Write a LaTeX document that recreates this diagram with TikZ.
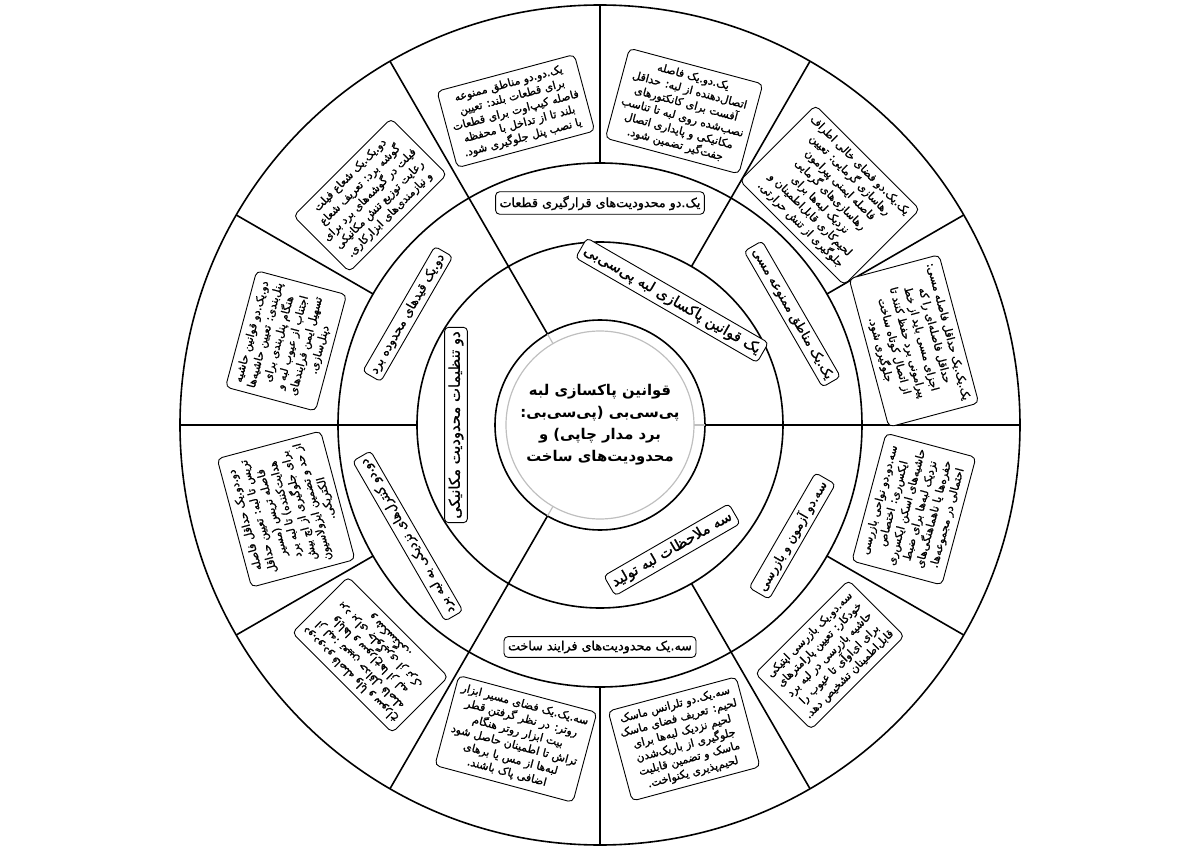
\documentclass[tikz,border=0pt]{standalone}
\usepackage{fontspec}
\newfontfamily\fafont[Script=Arabic, FakeBold=1.2]{DejaVu Sans}
\newfontfamily\fahub[Script=Arabic]{DejaVu Sans Bold}
\TeXXeTstate=1
\newcommand{\fa}[1]{\beginR #1\endR}
\tikzset{
    ring/.style = {line width=1.6pt, black},
    faint/.style = {line width=1.2pt, black!25},
    hub/.style = {align=center, font=\fahub\fontsize{14.8}{22}\selectfont},
    trunk/.style = {draw, line width=0.9pt, rounded corners=4pt, fill=white, inner sep=4pt, font=\fafont\fontsize{14.8}{17}\selectfont},
    branch/.style = {draw, line width=0.9pt, rounded corners=4pt, fill=white, inner sep=4pt, font=\fafont\fontsize{12.7}{15}\selectfont},
    leaf/.style = {draw, line width=0.9pt, rounded corners=5pt, fill=white, align=center, inner sep=6pt, font=\fafont\fontsize{11}{14}\selectfont}
}

\begin{document}
\begin{tikzpicture}[x=1pt, y=1pt]
    \useasboundingbox (-600,-424) rectangle (600,425);

    % rings and spokes
    \draw[faint] (0,0) circle (94);
    \foreach \r in {105,183,262,420}
        \draw[ring] (0,0) circle (\r);
    \foreach \a in {0,120,240} {
        \draw[faint] (\a:94) -- (\a:105);
        \draw[ring] (\a:105) -- (\a:183);
    }
    \foreach \a in {0,60,...,300}
        \draw[ring] (\a:183) -- (\a:262);
    \foreach \a in {0,30,...,330}
        \draw[ring] (\a:262) -- (\a:420);

    % centre
    \node[hub] (hub) at (0,0) {\fa{قوانین پاکسازی لبه}\\\fa{پی‌سی‌بی (پی‌سی‌بی:}\\\fa{برد مدار چاپی) و}\\\fa{محدودیت‌های ساخت}};

    % first ring
    \node[trunk, rotate=-30] (edgerules) at (60:144) {\fa{یک قوانین پاکسازی لبه پی‌سی‌بی}};
    \node[trunk, rotate=90] (mechlimits) at (180:144) {\fa{دو تنظیمات محدودیت مکانیکی}};
    \node[trunk, rotate=30] (fabnotes) at (300:144) {\fa{سه ملاحظات لبه تولید}};

    % second ring
    \node[branch, rotate=-60] (keepout) at (30:222) {\fa{یک.یک مناطق ممنوعه مسی}};
    \node[branch] (placement) at (90:222) {\fa{یک.دو محدودیت‌های قرارگیری قطعات}};
    \node[branch, rotate=60] (outline) at (150:222) {\fa{دو.یک قیدهای محدوده برد}};
    \node[branch, rotate=120] (nearedge) at (210:222) {\fa{دو.دو کنترل‌های نزدیکی به لبه برد}};
    \node[branch] (process) at (270:222) {\fa{سه.یک محدودیت‌های فرایند ساخت}};
    \node[branch, rotate=60] (testing) at (330:222) {\fa{سه.دو آزمون و بازرسی}};

    % outer ring
    \node[leaf, rotate=-75] (coppergap) at (15:325) {\fa{یک.یک.یک حداقل فاصله مسی:}\\\fa{حداقل فاصله‌ای را که}\\\fa{اجزای مسی باید از خط}\\\fa{پیرامونی برد حفظ کنند تا}\\\fa{از اتصال کوتاه ساخت}\\\fa{جلوگیری شود.}};
    \node[leaf, rotate=-45] (thermal) at (45:325) {\fa{یک.یک.دو فضای خالی اطراف}\\\fa{رهاسازی گرمایی: تعیین}\\\fa{فاصله ایمنی پیرامون}\\\fa{رهاسازی‌های گرمایی}\\\fa{نزدیک لبه‌ها برای}\\\fa{لحیم‌کاری قابل‌اطمینان و}\\\fa{جلوگیری از تنش حرارتی.}};
    \node[leaf, rotate=-15] (connector) at (75:325) {\fa{یک.دو.یک فاصله}\\\fa{اتصال‌دهنده از لبه: حداقل}\\\fa{آفست برای کانکتورهای}\\\fa{نصب‌شده روی لبه تا تناسب}\\\fa{مکانیکی و پایداری اتصال}\\\fa{جفت‌گیر تضمین شود.}};
    \node[leaf, rotate=15] (tallparts) at (105:325) {\fa{یک.دو.دو مناطق ممنوعه}\\\fa{برای قطعات بلند: تعیین}\\\fa{فاصله کیپ‌اوت برای قطعات}\\\fa{بلند تا از تداخل با محفظه}\\\fa{یا نصب پنل جلوگیری شود.}};
    \node[leaf, rotate=45] (fillet) at (135:325) {\fa{دو.یک.یک شعاع فیلت}\\\fa{گوشه برد: تعریف شعاع}\\\fa{فیلت در گوشه‌های برد برای}\\\fa{رعایت توزیع تنش مکانیکی}\\\fa{و نیازمندی‌های ابزارکاری.}};
    \node[leaf, rotate=75] (panel) at (165:325) {\fa{دو.یک.دو قوانین حاشیه}\\\fa{پنل‌بندی: تعیین حاشیه‌ها}\\\fa{هنگام پنل‌بندی برای}\\\fa{اجتناب از عیوب لبه و}\\\fa{تسهیل ایمن فرایندهای}\\\fa{دپنل‌سازی.}};
    \node[leaf, rotate=105] (tracegap) at (195:325) {\fa{دو.دو.یک حداقل فاصله}\\\fa{تریس تا لبه: تعیین حداقل}\\\fa{فاصله تریس (مسیر}\\\fa{هدایت‌کننده) تا لبه برد}\\\fa{برای جلوگیری از اچ بیش}\\\fa{از حد و تضمین ایزولاسیون}\\\fa{الکتریکی.}};
    \node[leaf, rotate=135] (viagap) at (225:325) {\fa{دو.دو.دو فاصله وایا و سوراخ}\\\fa{از لبه: تعیین حداقل فاصله}\\\fa{وایاها و سوراخ‌ها از لبه}\\\fa{برد برای جلوگیری از ترک}\\\fa{و شکستگی.}};
    \node[leaf, rotate=-15] (routerbit) at (255:325) {\fa{سه.یک.یک فضای مسیر ابزار}\\\fa{روتر: در نظر گرفتن قطر}\\\fa{بیت ابزار روتر هنگام}\\\fa{تراش تا اطمینان حاصل شود}\\\fa{لبه‌ها از مس یا برهای}\\\fa{اضافی پاک باشند.}};
    \node[leaf, rotate=15] (soldermask) at (285:325) {\fa{سه.یک.دو تلرانس ماسک}\\\fa{لحیم: تعریف فضای ماسک}\\\fa{لحیم نزدیک لبه‌ها برای}\\\fa{جلوگیری از باریک‌شدن}\\\fa{ماسک و تضمین قابلیت}\\\fa{لحیم‌پذیری یکنواخت.}};
    \node[leaf, rotate=45] (aoi) at (315:325) {\fa{سه.دو.یک بازرسی اپتیکی}\\\fa{خودکار: تعیین پارامترهای}\\\fa{حاشیه بازرسی در لبه برد}\\\fa{برای ای‌اوآی تا عیوب را}\\\fa{قابل‌اطمینان تشخیص دهد.}};
    \node[leaf, rotate=75] (xray) at (345:325) {\fa{سه.دو.دو نواحی بازرسی}\\\fa{ایکس‌ری: اختصاص}\\\fa{حاشیه‌های اسکن ایکس‌ری}\\\fa{نزدیک لبه‌ها برای ضبط}\\\fa{حفره‌ها یا ناهماهنگی‌های}\\\fa{احتمالی در مجموعه‌ها.}};
\end{tikzpicture}
\end{document}
